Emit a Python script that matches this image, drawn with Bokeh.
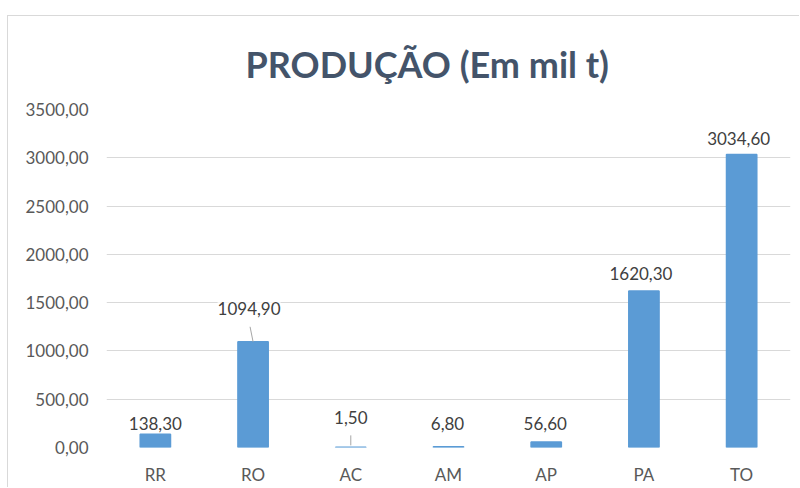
from bokeh.plotting import figure
from bokeh.models import ColumnDataSource, FactorRange, Range1d, FixedTicker, LabelSet
from bokeh.transform import dodge
from bokeh.core.properties import value
from bokeh.embed import file_html
from bokeh.resources import INLINE

# ---- data ----
states = ["RR", "RO", "AC", "AM", "AP", "PA", "TO"]
production = [138.30, 1094.90, 1.50, 6.80, 56.60, 1620.30, 3034.60]
y_ticks = [0, 500, 1000, 1500, 2000, 2500, 3000, 3500]
y_tick_labels = ["0,00", "500,00", "1000,00", "1500,00", "2000,00", "2500,00", "3000,00", "3500,00"]
title_text = "PRODUÇÃO (Em mil t)"

# ---- styling (screen px) ----
label_dx = [0, -4, 0, -1, -1, -3, -3]
label_dy = [11, 33, 30, 23, 19, 18, 16]

FONT = "Lato"
W, H = 792, 472
MB_L, MB_R, MB_T, MB_B = 98, 10, 92, 41

labels = [f"{v:.2f}".replace(".", ",") for v in production]
src = ColumnDataSource(dict(state=states, val=production, lab=labels, dx=label_dx, dy=label_dy))

p = figure(width=W, height=H, x_range=FactorRange(*states), y_range=Range1d(0, 3500),
           output_backend="svg", toolbar_location=None, title=title_text,
           min_border_left=MB_L, min_border_right=MB_R, min_border_top=MB_T, min_border_bottom=MB_B)
p.styles = {"margin-left": "7px", "margin-top": "15px",
            "border-left": "1px solid #d9d9d9", "border-top": "1px solid #d9d9d9"}
p.outline_line_color = None
p.background_fill_color = "white"
p.border_fill_color = "white"

p.title.align = "left"
p.title.text_font = FONT
p.title.text_font_size = "36px"
p.title.text_font_style = "bold"
p.title.text_color = "#44546a"
p.title.standoff = 47
p.title.offset = 139

p.xgrid.grid_line_color = None
p.ygrid.grid_line_color = "#d9d9d9"
p.ygrid.grid_line_width = 1
p.yaxis.ticker = FixedTicker(ticks=y_ticks)
p.yaxis.major_label_overrides = {t: l for t, l in zip(y_ticks, y_tick_labels)}
for ax in (p.xaxis[0], p.yaxis[0]):
    ax.axis_line_color = None
    ax.major_tick_line_color = None
    ax.minor_tick_line_color = None
    ax.major_tick_out = 0
    ax.major_label_text_font = FONT
    ax.major_label_text_font_size = "17px"
    ax.major_label_text_color = "#595959"
p.yaxis.major_label_standoff = 18
p.xaxis.major_label_standoff = 16

p.vbar(x="state", top="val", width=0.31, source=src, fill_color="#5b9bd5",
       line_color="#5b9bd5", line_width=1.5)

# leader lines
k = 3500 / (H - MB_T - MB_B)   # data units per px
dx_px = 97.7
for st, v, tdx, tdy, bdy in [("RO", production[1], -3, 15, 0), ("AC", production[2], 0, 12, 2)]:
    ls = ColumnDataSource(dict(state=[st], y0=[v + bdy * k], y1=[v + tdy * k]))
    p.segment(x0=dodge("state", 0, range=p.x_range), y0="y0",
              x1=dodge("state", tdx / dx_px, range=p.x_range), y1="y1",
              source=ls, line_color="#a6a6a6", line_width=1)

p.add_layout(LabelSet(x="state", y="val", text="lab", x_offset="dx", y_offset="dy", source=src,
                      text_align="center", text_baseline="middle", text_font=value(FONT),
                      text_font_size="17px", text_color="#404040",
                      background_fill_color="white"))

open("out.html", "w").write(file_html(p, INLINE))
